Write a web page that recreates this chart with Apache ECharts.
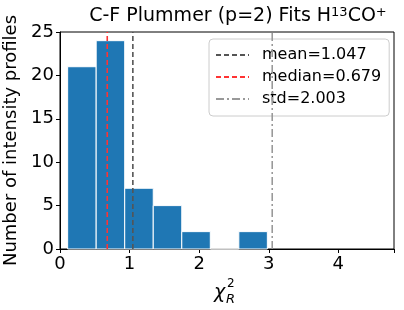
<!DOCTYPE html>
<html><head><meta charset="utf-8">
<script src="https://cdn.jsdelivr.net/npm/echarts@6/dist/echarts.min.js"></script>
<style>html,body{margin:0;padding:0;background:#fff}#c{width:404px;height:310px}</style>
</head><body><div id="c"></div>
<script>
const binEdges = [0.11, 0.52, 0.93, 1.34, 1.75, 2.16, 2.57, 2.98];
const counts = [21, 24, 7, 5, 2, 0, 2];
const meanVal = 1.047;
const medianVal = 0.679;
const stdVal = 2.003;
const xTicks = [0, 1, 2, 3, 4];
const yTicks = [0, 5, 10, 15, 20, 25];

const F = 'DejaVu Sans';
const barData = counts.map((c, i) => [binEdges[i], binEdges[i + 1], c]);
const stdLineX = +(meanVal + stdVal).toFixed(3);

const chart = echarts.init(document.getElementById('c'), null, {renderer: 'canvas'});
chart.setOption({
  animation: false,
  textStyle: {fontFamily: F},
  title: {
    text: '{n|C-F Plummer (p=2) Fits H}{s|13}{n|CO}{s|+}',
    left: 233, top: 1, textAlign: 'center',
    textStyle: {fontFamily: F, fontSize: 19, fontWeight: 'normal', color: '#000',
      rich: {
        n: {fontFamily: F, fontSize: 19, color: '#000'},
        s: {fontFamily: F, fontSize: 13, verticalAlign: 'top', padding: [0, 0, 8, 0], color: '#000'}
      }}
  },
  legend: {
    orient: 'vertical', left: 209, top: 39,
    padding: [8, 8, 9, 6], itemGap: 6, itemWidth: 33, itemHeight: 18,
    borderColor: '#ccc', borderWidth: 1, borderRadius: 4, backgroundColor: 'rgba(255,255,255,0.8)',
    itemStyle: {opacity: 0},
    textStyle: {fontFamily: F, fontSize: 16, color: '#000', padding: [0, 0, 0, 8]},
    data: ['mean=1.047', 'median=0.679', 'std=2.003']
  },
  grid: {left: 60, right: 10, top: 32, bottom: 61, show: true, borderColor: '#000', borderWidth: 1,
    containLabel: false, outerBoundsMode: 'none'},
  xAxis: {
    type: 'value', min: 0, max: 4.8, interval: 1,
    axisLine: {lineStyle: {color: '#000'}},
    axisTick: {show: true, length: 4, lineStyle: {color: '#000'}},
    axisLabel: {fontFamily: F, fontSize: 18, color: '#000', margin: 6,
      formatter: v => xTicks.includes(v) ? String(v) : ''},
    splitLine: {show: false}
  },
  yAxis: {
    type: 'value', min: 0, max: 25, interval: 5,
    name: 'Number of intensity profiles', nameLocation: 'middle', nameGap: 34,
    nameTextStyle: {fontFamily: F, fontSize: 18, color: '#000'},
    axisLine: {show: true, lineStyle: {color: '#000'}},
    axisTick: {show: true, length: 4, lineStyle: {color: '#000'}},
    axisLabel: {fontFamily: F, fontSize: 18, color: '#000', margin: 6,
      formatter: v => yTicks.includes(v) ? String(v) : ''},
    splitLine: {show: false}
  },
  graphic: [{
    type: 'group', left: 214, top: 278,
    children: [
      {type: 'text', x: 0, y: 6, style: {text: 'χ', font: 'italic 19px "DejaVu Sans"', fill: '#000'}},
      {type: 'text', x: 13, y: 0, style: {text: '2', font: '12px "DejaVu Sans"', fill: '#000'}},
      {type: 'text', x: 12, y: 15, style: {text: 'R', font: 'italic 13px "DejaVu Sans"', fill: '#000'}}
    ]
  }],
  series: [
    {
      type: 'custom', name: 'hist', z: 2,
      renderItem: (params, api) => {
        const p0 = api.coord([api.value(0), api.value(2)]);
        const p1 = api.coord([api.value(1), 0]);
        return {type: 'rect', shape: {x: p0[0], y: p0[1], width: p1[0] - p0[0], height: p1[1] - p0[1]},
          style: {fill: '#1f77b4', stroke: '#fff', lineWidth: 1}};
      },
      encode: {x: [0, 1], y: 2},
      data: barData
    },
    {type: 'line', name: 'mean=1.047', z: 5, symbol: 'none', color: '#555555',
      lineStyle: {color: '#555555', width: 1.6, type: [5, 3]},
      data: [[meanVal, 0], [meanVal, 25]]},
    {type: 'line', name: 'median=0.679', z: 5, symbol: 'none', color: '#ff3333',
      lineStyle: {color: '#ff3333', width: 1.6, type: [5, 3]},
      data: [[medianVal, 0], [medianVal, 25]]},
    {type: 'line', name: 'std=2.003', z: 5, symbol: 'none', color: '#999999',
      lineStyle: {color: '#999999', width: 1.6, type: [8, 3, 2, 3]},
      data: [[stdLineX, 0], [stdLineX, 25]]}
  ]
});
</script></body></html>
